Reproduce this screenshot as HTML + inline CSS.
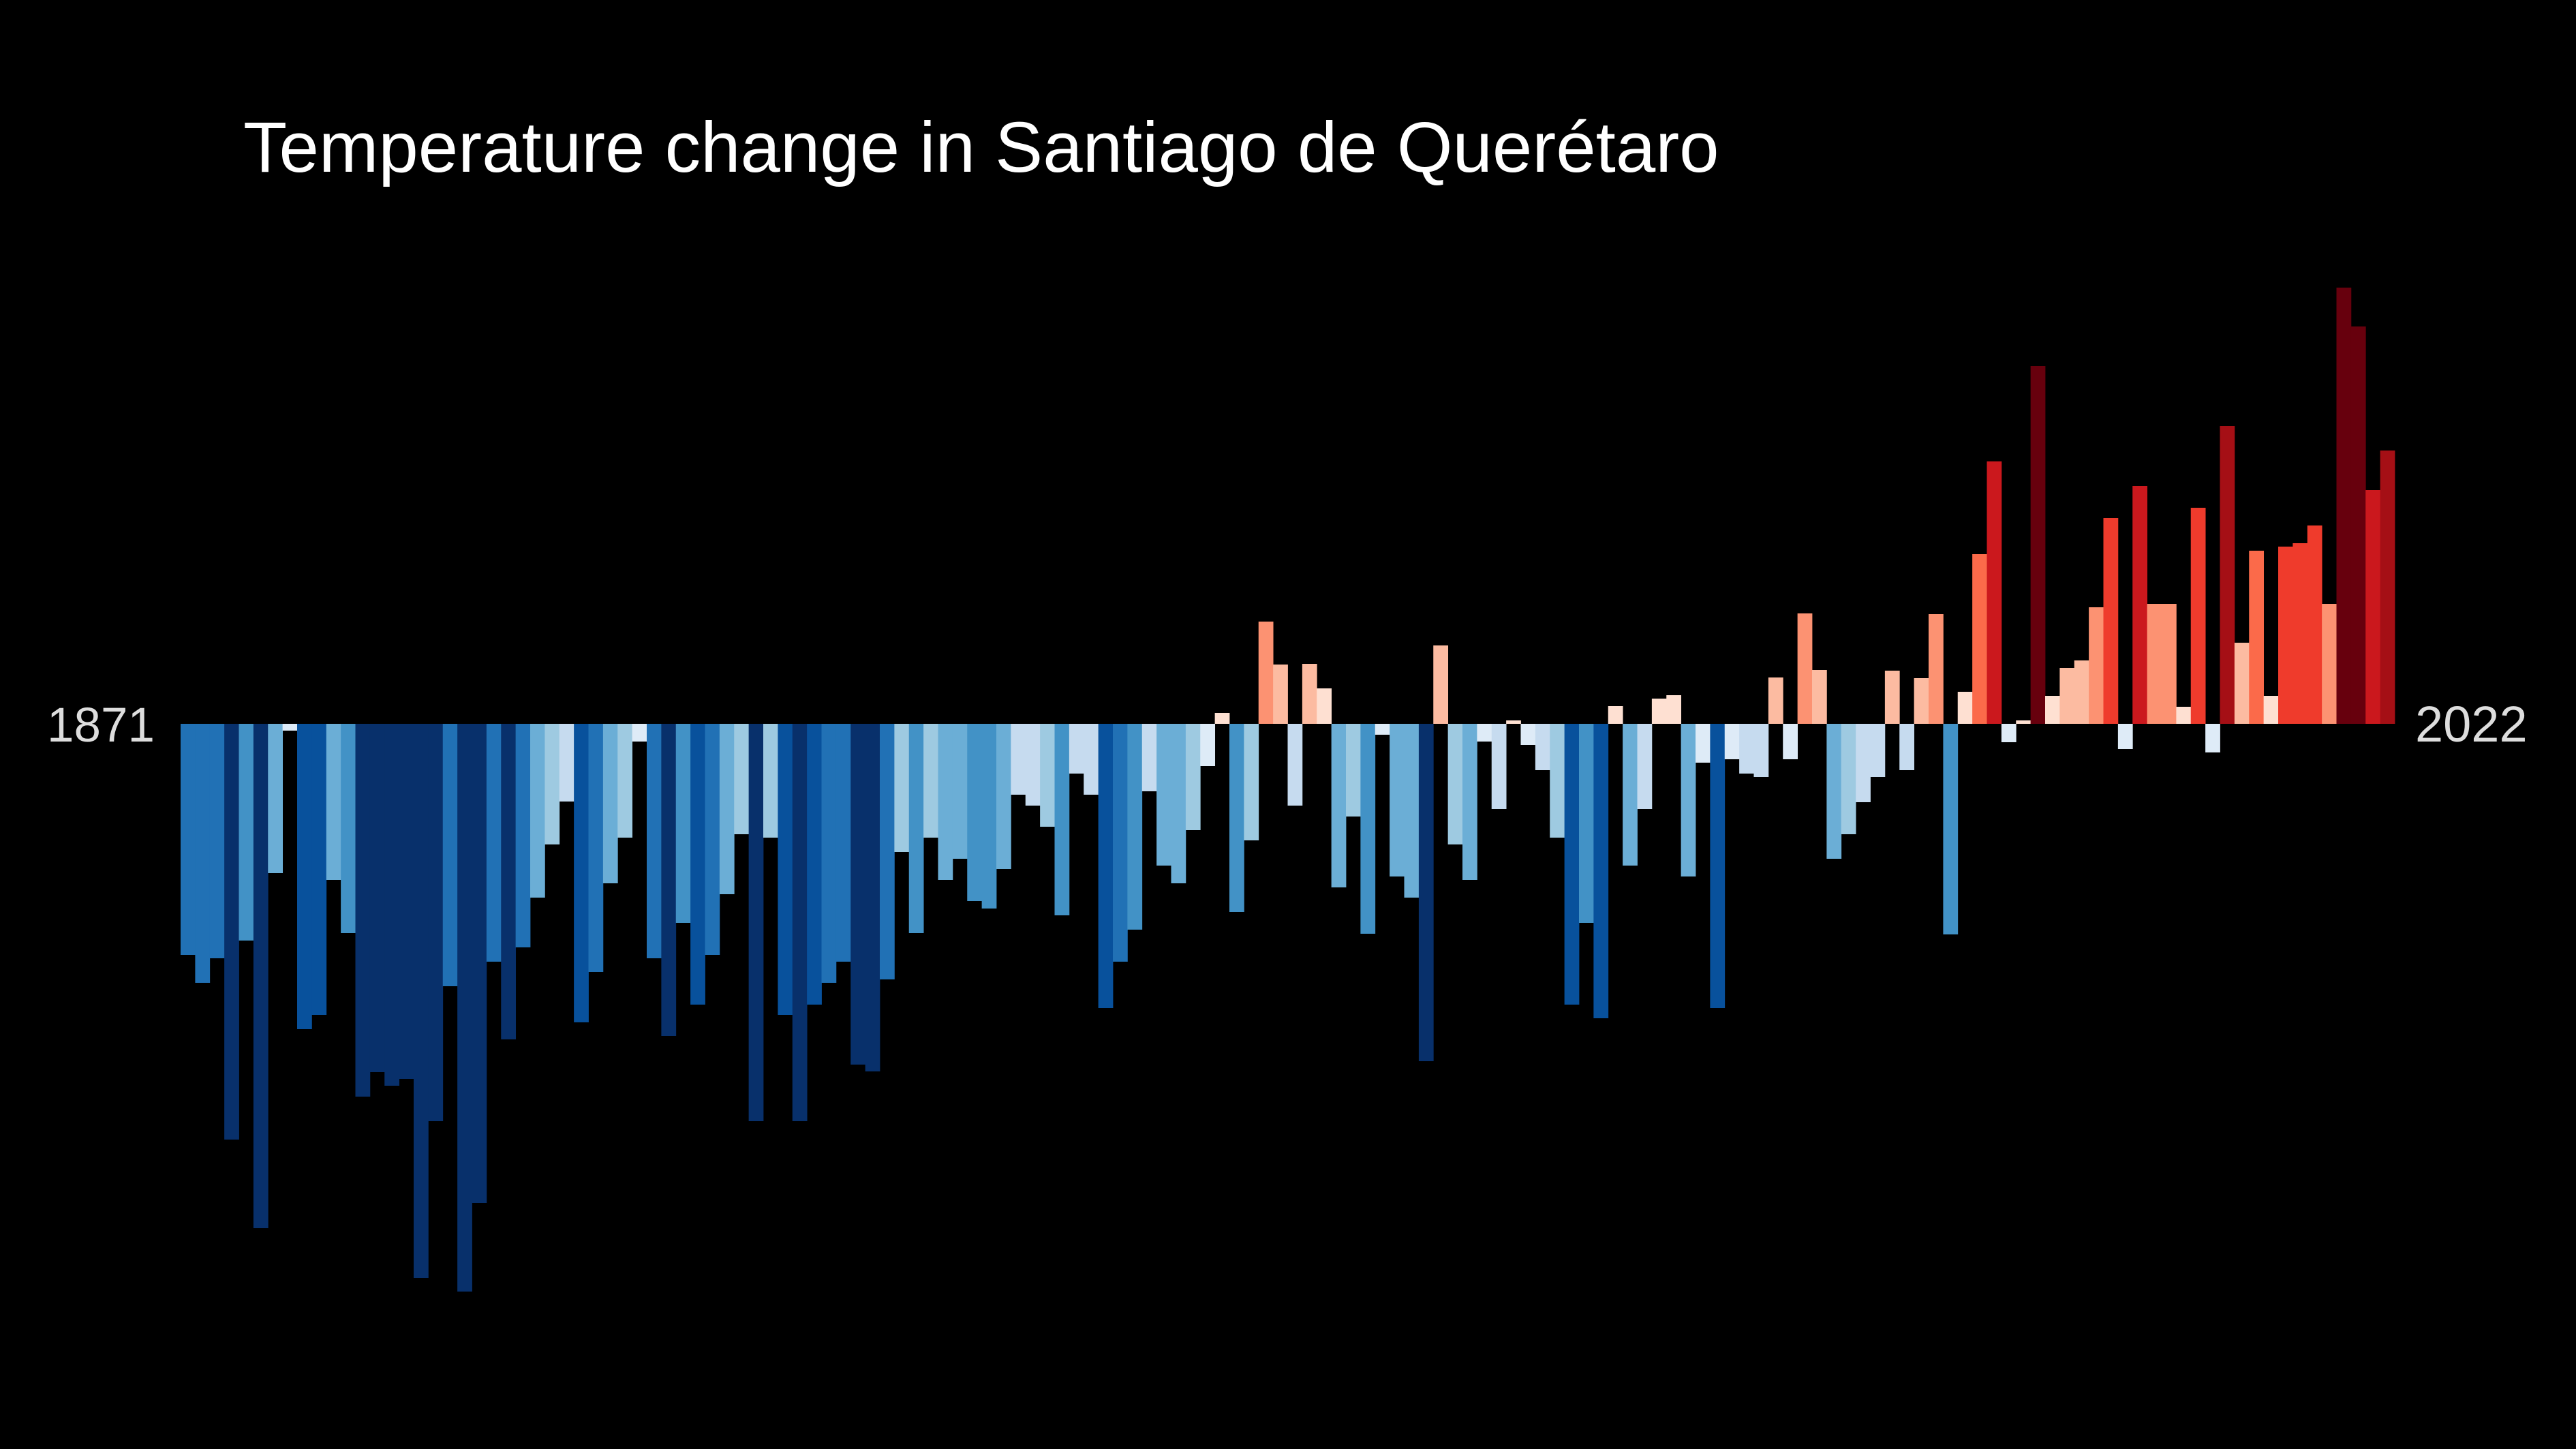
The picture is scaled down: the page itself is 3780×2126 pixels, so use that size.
<!DOCTYPE html>
<html>
<head>
<meta charset="utf-8">
<style>
  html,body{margin:0;padding:0;background:#000;}
  body{width:3780px;height:2126px;overflow:hidden;position:relative;}
  svg{position:absolute;left:0;top:0;}
</style>
</head>
<body>
<svg id="chart" width="3780" height="2126" viewBox="0 0 3780 2126" xmlns="http://www.w3.org/2000/svg">
  <rect x="0" y="0" width="3780" height="2126" fill="#000"/>
  <text x="357" y="252" font-family="'Liberation Sans', sans-serif" font-size="105" fill="#ffffff">Temperature change in Santiago de Querétaro</text>
  <g id="bars"></g>
  <text id="startLabel" x="227" y="1088" text-anchor="end" font-family="'Liberation Sans', sans-serif" font-size="71" fill="#dddddd"></text>
  <text id="endLabel" x="3544" y="1088" text-anchor="start" font-family="'Liberation Sans', sans-serif" font-size="74" fill="#dddddd"></text>
</svg>
<script>
const firstYear = 1871;
const lastYear = 2022;
const edgeLabels = ["1871", "2022"];
const anomalies = [
-3.39,-3.80,-3.44,-6.10,-3.18,-7.40,-2.19,-0.10,-4.48,-4.27,
-2.29,-3.07,-5.47,-5.11,-5.31,-5.21,-8.13,-5.83,-3.85,-8.33,
-7.03,-3.49,-4.63,-3.28,-2.55,-1.77,-1.14,-4.38,-3.64,-2.34,
-1.67,-0.26,-3.44,-4.58,-2.92,-4.12,-3.39,-2.50,-1.62,-5.83,
-1.67,-4.27,-5.83,-4.12,-3.80,-3.49,-5.00,-5.10,-3.75,-1.88,
-3.07,-1.67,-2.29,-1.98,-2.60,-2.71,-2.13,-1.04,-1.20,-1.51,
-2.81,-0.73,-1.04,-4.17,-3.49,-3.02,-0.99,-2.08,-2.34,-1.56,
-0.62,0.16,-2.76,-1.71,1.50,0.87,-1.20,0.88,0.52,-2.40,
-1.36,-3.08,-0.16,-2.24,-2.55,-4.95,1.15,-1.77,-2.29,-0.26,
-1.25,0.05,-0.31,-0.68,-1.67,-4.12,-2.92,-4.32,0.26,-2.08,
-1.25,0.37,0.42,-2.24,-0.57,-4.17,-0.52,-0.73,-0.78,0.68,
-0.52,1.62,0.79,-1.98,-1.62,-1.15,-0.78,0.78,-0.68,0.67,
1.61,-3.09,0.47,2.49,3.85,-0.27,0.05,5.25,0.41,0.82,
0.93,1.71,3.02,-0.37,3.49,1.76,1.76,0.25,3.17,-0.42,
4.37,1.19,2.54,0.41,2.60,2.65,2.91,1.76,6.40,5.83,
3.43,4.01
];
const blues = ["#deebf7","#c6dbef","#9ecae1","#6baed6","#4292c6","#2171b5","#08519c","#08306b"];
const reds = ["#fee0d2","#fcbba1","#fc9272","#fb6a4a","#ef3b2c","#cb181d","#a50f15","#67000d"];

const years = [];
for (let y = firstYear; y <= lastYear; y++) years.push(y);

const plotLeft = 265, plotRight = 3514, zeroY = 1062, pxPerUnit = 100;
const bw = (plotRight - plotLeft) / years.length;
function xScale(i){ return plotLeft + i * bw; }
function yScale(v){ return zeroY - v * pxPerUnit; }
function colorFor(v){
  const idx = Math.min(7, Math.floor(Math.abs(v) / 0.645));
  return v >= 0 ? reds[idx] : blues[idx];
}

const g = document.getElementById('bars');
const NS = "http://www.w3.org/2000/svg";
anomalies.forEach((v, i) => {
  const r = document.createElementNS(NS, 'rect');
  const y1 = yScale(v), y0 = yScale(0);
  r.setAttribute('x', xScale(i).toFixed(2));
  r.setAttribute('width', (bw + 0.4).toFixed(2));
  r.setAttribute('y', Math.min(y0, y1).toFixed(2));
  r.setAttribute('height', Math.abs(y1 - y0).toFixed(2));
  r.setAttribute('fill', colorFor(v));
  
  
  g.appendChild(r);
});
document.getElementById('startLabel').textContent = edgeLabels[0];
document.getElementById('endLabel').textContent = edgeLabels[1];
</script>
</body>
</html>
